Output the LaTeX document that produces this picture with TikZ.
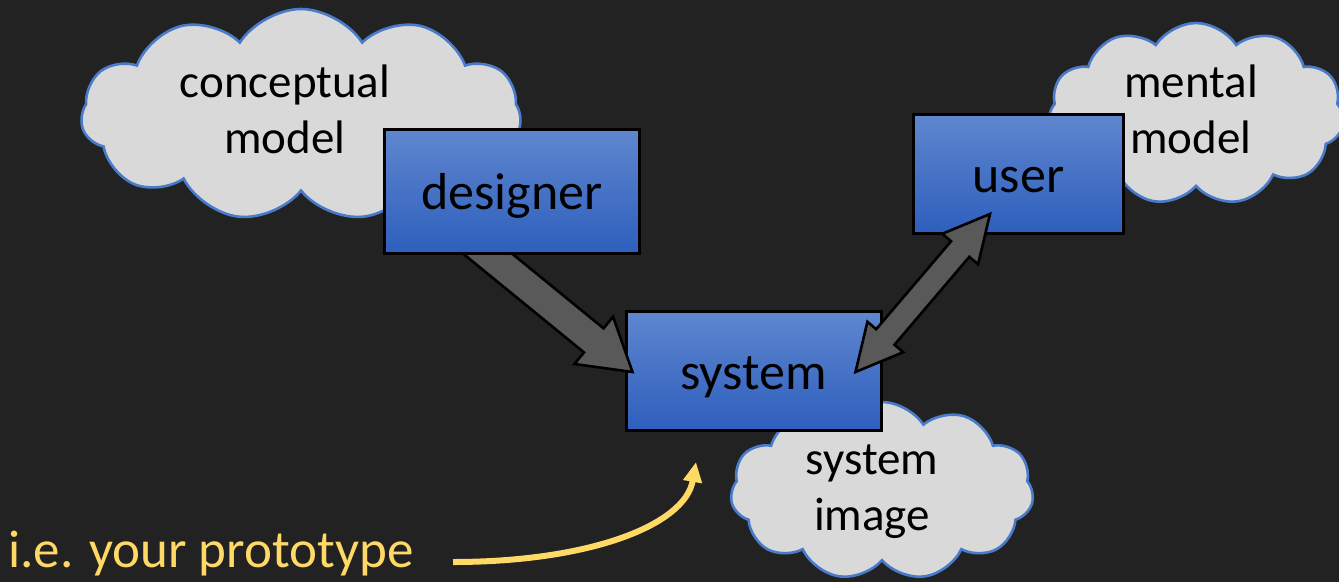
\documentclass[tikz,border=0pt]{standalone}
\usepackage{fontspec}
\setmainfont{Carlito}
\usetikzlibrary{shapes.symbols,calc,arrows.meta}
\definecolor{bgc}{HTML}{222222}
\definecolor{cloudfill}{HTML}{D9D9D9}
\definecolor{cloudline}{HTML}{4A7BCB}
\definecolor{boxtop}{HTML}{5F86CF}
\definecolor{boxbot}{HTML}{2E5FBD}
\definecolor{arrowfill}{HTML}{595959}
\definecolor{gold}{HTML}{FFD966}
\tikzset{
  cloudshape/.style={cloud, cloud puffs=11, cloud puff arc=115, aspect=2.1, fill=cloudfill, draw=cloudline, line width=2.6pt, inner sep=0pt},
  cloudtext/.style={align=center, font=\fontsize{47}{56}\selectfont, text=black, inner sep=0pt},
  bluebox/.style={rectangle, draw=black, line width=3pt, top color=boxtop, bottom color=boxbot, font=\fontsize{52}{60}\selectfont, text=black, text height=40pt, text depth=4pt, inner sep=0pt},
  blockarrow/.style={fill=arrowfill, draw=black, line width=2.6pt, line join=miter},
  goldline/.style={draw=gold, line width=6pt, -{Triangle[length=20pt,width=18pt]}},
}
\newcommand{\singleblock}[5]{%
  \path ($(#2)!#5!(#1)$) coordinate (hbA);
  \draw[blockarrow] ($(#1)!#3!90:(#2)$) -- ($(hbA)!#3!90:(#2)$) -- ($(hbA)!#4!90:(#2)$) -- (#2)
    -- ($(hbA)!#4!-90:(#2)$) -- ($(hbA)!#3!-90:(#2)$) -- ($(#1)!#3!-90:(#2)$) -- cycle;
}
\newcommand{\doubleblock}[5]{%
  \path ($(#2)!#5!(#1)$) coordinate (hbB) ($(#1)!#5!(#2)$) coordinate (hbC);
  \draw[blockarrow] (#1) -- ($(hbC)!#4!90:(#2)$) -- ($(hbC)!#3!90:(#2)$) -- ($(hbB)!#3!90:(#2)$) -- ($(hbB)!#4!90:(#2)$) -- (#2)
    -- ($(hbB)!#4!-90:(#2)$) -- ($(hbB)!#3!-90:(#2)$) -- ($(hbC)!#3!-90:(#2)$) -- ($(hbC)!#4!-90:(#2)$) -- cycle;
}
\begin{document}
\begin{tikzpicture}[x=1pt,y=-1pt]
\fill[bgc] (0,0) rectangle (1339,582);
\useasboundingbox (0,0) rectangle (1339,582);
% clouds
\node[cloudshape, minimum width=440pt, minimum height=212pt] (cc) at (301,115) {};
\node[cloudtext, anchor=base] (cct) at (285,153) {conceptual\\model};
\node[cloudshape, minimum width=296pt, minimum height=182pt] (mc) at (1196,114) {};
\node[cloudtext, anchor=base] (mct) at (1191,153) {mental\\model};
\node[cloudshape, minimum width=303pt, minimum height=178pt] (sc) at (882,491) {};
\node[cloudtext, anchor=base] (sct) at (872,530) {system\\image};
% boxes
\node[bluebox, minimum width=255pt, minimum height=119pt] (system) at (753.5,371) {system};
\node[bluebox, minimum width=210pt, minimum height=119pt] (user) at (1018.5,174) {user};
\coordinate (a1s) at (439,214);
\coordinate (a1e) at ($(system.west)+(8,1)$);
\singleblock{a1s}{a1e}{15.5pt}{30.5pt}{50pt}
\node[bluebox, minimum width=255pt, minimum height=124pt] (designer) at (512,191.5) {designer};
\coordinate (a2s) at ($(system.east)+(-27,1)$);
\coordinate (a2e) at ($(user.south)+(-28.5,-21)$);
\doubleblock{a2s}{a2e}{12pt}{23.5pt}{46pt}
% caption
\node[anchor=base west, font=\fontsize{53}{60}\selectfont, text=gold, inner sep=0pt] (cap) at (8,567) {i.e. your prototype};
\coordinate (gs) at (453,562);
\coordinate (ge) at (696,462);
\draw[goldline] (gs) .. controls (590,562) and (685,525) .. (ge);
\end{tikzpicture}
\end{document}
